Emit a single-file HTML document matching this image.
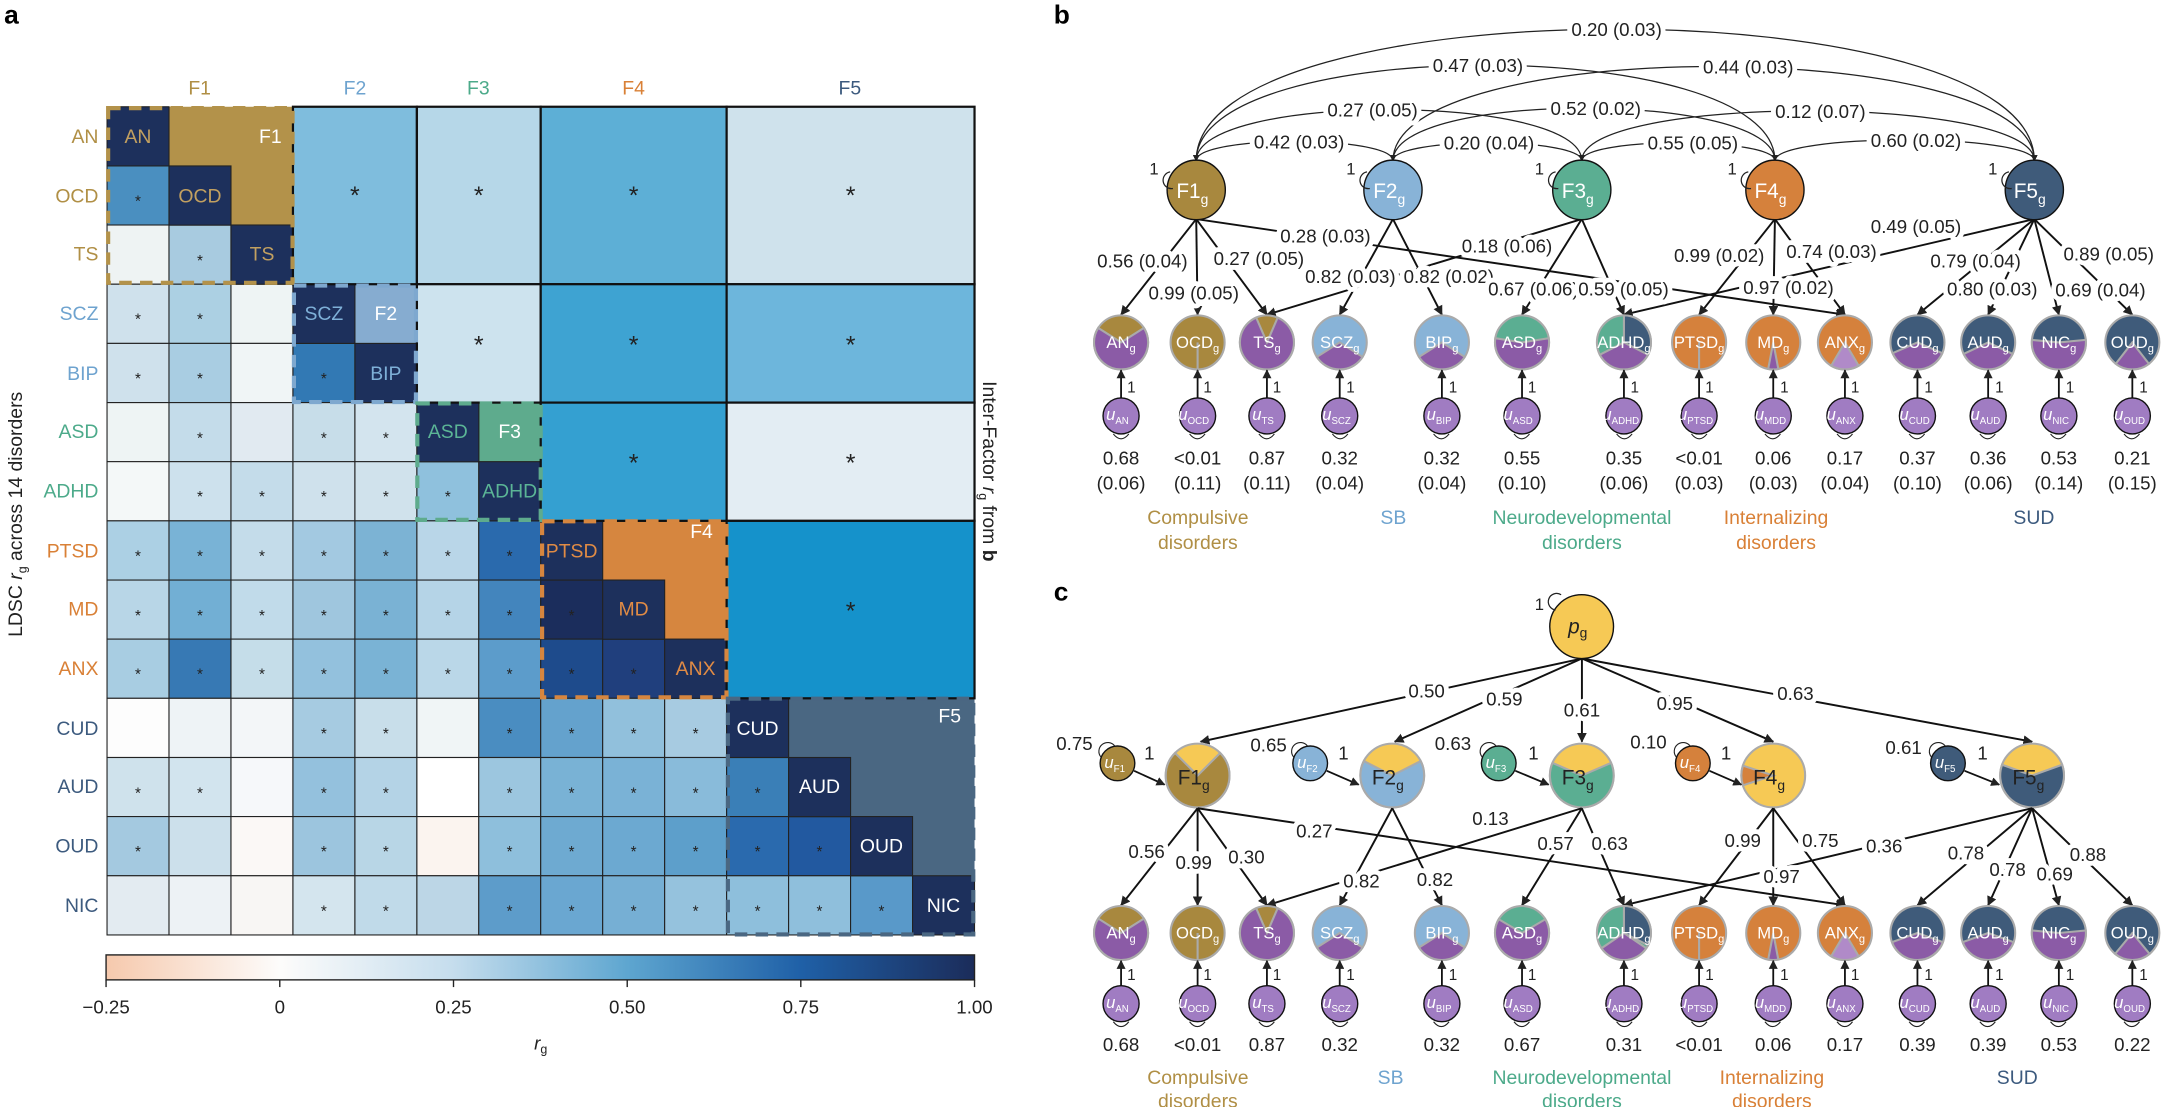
<!DOCTYPE html>
<html><head><meta charset="utf-8"><style>
html,body{margin:0;padding:0;background:#fff;}
svg{display:block;font-family:"Liberation Sans",sans-serif;}
.h{paint-order:stroke;stroke:#fff;stroke-width:7px;stroke-linejoin:round;}
.s{font-size:11px;fill:#222;text-anchor:middle;}
.lb{font-size:14px;text-anchor:middle;}
.t{font-size:13.5px;fill:#222;text-anchor:middle;}
.pl{font-size:12px;fill:#fff;text-anchor:middle;}
.ul{font-size:12px;fill:#fff;text-anchor:middle;font-style:italic;}
</style></head><body>
<svg width="2167" height="1107" viewBox="0 0 1563 798.5" preserveAspectRatio="none" xmlns="http://www.w3.org/2000/svg">
<defs>
<linearGradient id="cb" x1="0" x2="1" y1="0" y2="0">
<stop offset="0" stop-color="#f6c9ad"/><stop offset="0.2" stop-color="#fdfcfb"/><stop offset="0.4" stop-color="#c5dded"/><stop offset="0.6" stop-color="#5ea6d0"/><stop offset="0.8" stop-color="#1f60a7"/><stop offset="1" stop-color="#1b2c5a"/>
</linearGradient>
<marker id="ar" viewBox="0 0 10 10" refX="9" refY="5" markerWidth="5" markerHeight="5" orient="auto-start-reverse"><path d="M0,0 L10,5 L0,10 z" fill="#222"/></marker>
</defs>

<text x="3" y="17" font-size="19" font-weight="bold">a</text>
<text x="760" y="17" font-size="19" font-weight="bold">b</text>
<text x="760" y="433" font-size="19" font-weight="bold">c</text>

<g class="lb">
<text x="144" y="68" fill="#b08f45">F1</text>
<text x="256" y="68" fill="#6ea3cf">F2</text>
<text x="345" y="68" fill="#4caa8a">F3</text>
<text x="457" y="68" fill="#d98036">F4</text>
<text x="613" y="68" fill="#3c5a7e">F5</text>
</g>
<g font-size="14" text-anchor="end">
<text x="71" y="103" fill="#b08f45">AN</text>
<text x="71" y="146" fill="#b08f45">OCD</text>
<text x="71" y="188" fill="#b08f45">TS</text>
<text x="71" y="231" fill="#6ea3cf">SCZ</text>
<text x="71" y="274" fill="#6ea3cf">BIP</text>
<text x="71" y="316" fill="#4caa8a">ASD</text>
<text x="71" y="359" fill="#4caa8a">ADHD</text>
<text x="71" y="402" fill="#d98036">PTSD</text>
<text x="71" y="444" fill="#d98036">MD</text>
<text x="71" y="487" fill="#d98036">ANX</text>
<text x="71" y="530" fill="#3c5a7e">CUD</text>
<text x="71" y="572" fill="#3c5a7e">AUD</text>
<text x="71" y="615" fill="#3c5a7e">OUD</text>
<text x="71" y="658" fill="#3c5a7e">NIC</text>
</g>
<text transform="translate(16,371) rotate(-90)" font-size="14" text-anchor="middle" fill="#222">LDSC <tspan font-style="italic">r</tspan><tspan font-size="9" dy="3">g</tspan><tspan dy="-3"> across 14 disorders</tspan></text>
<text transform="translate(709,340) rotate(90)" font-size="14" text-anchor="middle" fill="#222">Inter-Factor <tspan font-style="italic">r</tspan><tspan font-size="9" dy="3">g</tspan><tspan dy="-3"> from </tspan><tspan font-weight="bold">b</tspan></text>

<g stroke="#222" stroke-width="0.8">
<rect x="77.2" y="119.7" width="44.7" height="42.7" fill="#4a8fc0"/>
<rect x="77.2" y="162.3" width="44.7" height="42.7" fill="#eef3f3"/><rect x="121.9" y="162.3" width="44.7" height="42.7" fill="#a8cbe0"/>
<rect x="77.2" y="205" width="44.7" height="42.7" fill="#cfe1ec"/><rect x="121.9" y="205" width="44.7" height="42.7" fill="#acd0e3"/><rect x="166.6" y="205" width="44.7" height="42.7" fill="#eef4f4"/>
<rect x="77.2" y="247.7" width="44.7" height="42.7" fill="#cfe1ec"/><rect x="121.9" y="247.7" width="44.7" height="42.7" fill="#a9cde2"/><rect x="166.6" y="247.7" width="44.7" height="42.7" fill="#f0f5f6"/><rect x="211.3" y="247.7" width="44.7" height="42.7" fill="#3279b4"/>
<rect x="77.2" y="290.4" width="44.7" height="42.7" fill="#eef4f4"/><rect x="121.9" y="290.4" width="44.7" height="42.7" fill="#c4dcea"/><rect x="166.6" y="290.4" width="44.7" height="42.7" fill="#e1eaf1"/><rect x="211.3" y="290.4" width="44.7" height="42.7" fill="#c7dde9"/><rect x="256" y="290.4" width="44.7" height="42.7" fill="#d3e4ee"/>
<rect x="77.2" y="333" width="44.7" height="42.7" fill="#f4f8f8"/><rect x="121.9" y="333" width="44.7" height="42.7" fill="#cde1ed"/><rect x="166.6" y="333" width="44.7" height="42.7" fill="#c4dcea"/><rect x="211.3" y="333" width="44.7" height="42.7" fill="#cfe1ec"/><rect x="256" y="333" width="44.7" height="42.7" fill="#d0e2ec"/><rect x="300.7" y="333" width="44.7" height="42.7" fill="#8fc1dd"/>
<rect x="77.2" y="375.7" width="44.7" height="42.7" fill="#acd0e4"/><rect x="121.9" y="375.7" width="44.7" height="42.7" fill="#79b3d6"/><rect x="166.6" y="375.7" width="44.7" height="42.7" fill="#c4dcea"/><rect x="211.3" y="375.7" width="44.7" height="42.7" fill="#a3c9e1"/><rect x="256" y="375.7" width="44.7" height="42.7" fill="#7cb3d4"/><rect x="300.7" y="375.7" width="44.7" height="42.7" fill="#b9d6e8"/><rect x="345.3" y="375.7" width="44.7" height="42.7" fill="#2a6aad"/>
<rect x="77.2" y="418.4" width="44.7" height="42.7" fill="#b8d6e7"/><rect x="121.9" y="418.4" width="44.7" height="42.7" fill="#72afd4"/><rect x="166.6" y="418.4" width="44.7" height="42.7" fill="#c1dbea"/><rect x="211.3" y="418.4" width="44.7" height="42.7" fill="#9fc6de"/><rect x="256" y="418.4" width="44.7" height="42.7" fill="#7ab2d4"/><rect x="300.7" y="418.4" width="44.7" height="42.7" fill="#b5d4e7"/><rect x="345.3" y="418.4" width="44.7" height="42.7" fill="#4385bd"/><rect x="390" y="418.4" width="44.7" height="42.7" fill="#1b2d5c"/>
<rect x="77.2" y="461" width="44.7" height="42.7" fill="#a8cde2"/><rect x="121.9" y="461" width="44.7" height="42.7" fill="#3779b4"/><rect x="166.6" y="461" width="44.7" height="42.7" fill="#c5dde9"/><rect x="211.3" y="461" width="44.7" height="42.7" fill="#93c1dd"/><rect x="256" y="461" width="44.7" height="42.7" fill="#7ab3d5"/><rect x="300.7" y="461" width="44.7" height="42.7" fill="#bad7e8"/><rect x="345.3" y="461" width="44.7" height="42.7" fill="#5c9ccb"/><rect x="390" y="461" width="44.7" height="42.7" fill="#1e4b8c"/><rect x="434.7" y="461" width="44.7" height="42.7" fill="#203f7d"/>
<rect x="77.2" y="503.7" width="44.7" height="42.7" fill="#fdfdfd"/><rect x="121.9" y="503.7" width="44.7" height="42.7" fill="#eef3f6"/><rect x="166.6" y="503.7" width="44.7" height="42.7" fill="#f3f6f8"/><rect x="211.3" y="503.7" width="44.7" height="42.7" fill="#a6cbe1"/><rect x="256" y="503.7" width="44.7" height="42.7" fill="#c8deea"/><rect x="300.7" y="503.7" width="44.7" height="42.7" fill="#f0f5f6"/><rect x="345.3" y="503.7" width="44.7" height="42.7" fill="#4a8dc1"/><rect x="390" y="503.7" width="44.7" height="42.7" fill="#64a2cd"/><rect x="434.7" y="503.7" width="44.7" height="42.7" fill="#91c0dc"/><rect x="479.4" y="503.7" width="44.7" height="42.7" fill="#a7cbe1"/>
<rect x="77.2" y="546.4" width="44.7" height="42.7" fill="#cfe2ec"/><rect x="121.9" y="546.4" width="44.7" height="42.7" fill="#d2e4ee"/><rect x="166.6" y="546.4" width="44.7" height="42.7" fill="#f6f8fa"/><rect x="211.3" y="546.4" width="44.7" height="42.7" fill="#94c1dd"/><rect x="256" y="546.4" width="44.7" height="42.7" fill="#b4d3e6"/><rect x="300.7" y="546.4" width="44.7" height="42.7" fill="#ffffff"/><rect x="345.3" y="546.4" width="44.7" height="42.7" fill="#9cc6df"/><rect x="390" y="546.4" width="44.7" height="42.7" fill="#79b2d5"/><rect x="434.7" y="546.4" width="44.7" height="42.7" fill="#7ab2d6"/><rect x="479.4" y="546.4" width="44.7" height="42.7" fill="#89bbda"/><rect x="524.1" y="546.4" width="44.7" height="42.7" fill="#3a7fb7"/>
<rect x="77.2" y="589" width="44.7" height="42.7" fill="#a4c9e0"/><rect x="121.9" y="589" width="44.7" height="42.7" fill="#cce0eb"/><rect x="166.6" y="589" width="44.7" height="42.7" fill="#fbf8f6"/><rect x="211.3" y="589" width="44.7" height="42.7" fill="#9cc5de"/><rect x="256" y="589" width="44.7" height="42.7" fill="#b8d6e6"/><rect x="300.7" y="589" width="44.7" height="42.7" fill="#fbf4ef"/><rect x="345.3" y="589" width="44.7" height="42.7" fill="#8ebfdc"/><rect x="390" y="589" width="44.7" height="42.7" fill="#6eaad1"/><rect x="434.7" y="589" width="44.7" height="42.7" fill="#6ca9d1"/><rect x="479.4" y="589" width="44.7" height="42.7" fill="#5d9fcb"/><rect x="524.1" y="589" width="44.7" height="42.7" fill="#2a6aae"/><rect x="568.8" y="589" width="44.7" height="42.7" fill="#2259a0"/>
<rect x="77.2" y="631.7" width="44.7" height="42.7" fill="#e3ebf1"/><rect x="121.9" y="631.7" width="44.7" height="42.7" fill="#edf2f5"/><rect x="166.6" y="631.7" width="44.7" height="42.7" fill="#f8f6f4"/><rect x="211.3" y="631.7" width="44.7" height="42.7" fill="#d4e5ee"/><rect x="256" y="631.7" width="44.7" height="42.7" fill="#c0dae9"/><rect x="300.7" y="631.7" width="44.7" height="42.7" fill="#bcd6e6"/><rect x="345.3" y="631.7" width="44.7" height="42.7" fill="#5d9cca"/><rect x="390" y="631.7" width="44.7" height="42.7" fill="#6aa7d1"/><rect x="434.7" y="631.7" width="44.7" height="42.7" fill="#76afd4"/><rect x="479.4" y="631.7" width="44.7" height="42.7" fill="#95c2dd"/><rect x="524.1" y="631.7" width="44.7" height="42.7" fill="#8ebfdc"/><rect x="568.8" y="631.7" width="44.7" height="42.7" fill="#8fbfdc"/><rect x="613.5" y="631.7" width="44.7" height="42.7" fill="#5999c9"/>
</g>

<g stroke="none">
<path d="M121.9,77 H211.3 V162.3 H166.6 V119.7 H121.9 Z" fill="#b3924a"/>
<rect x="256" y="205" width="44.7" height="42.7" fill="#86acd0"/>
<rect x="345.3" y="290.4" width="44.7" height="42.7" fill="#5eab8d"/>
<path d="M434.7,375.7 H524.1 V461 H479.4 V418.4 H434.7 Z" fill="#d6863f"/>
<path d="M568.8,503.7 H702.9 V631.7 H658.2 V589 H613.5 V546.4 H568.8 Z" fill="#4a6782"/>
</g>
<g fill="#1d305c" stroke="#222" stroke-width="0.8">
<rect x="77.2" y="77" width="44.7" height="42.7"/><rect x="121.9" y="119.7" width="44.7" height="42.7"/><rect x="166.6" y="162.3" width="44.7" height="42.7"/>
<rect x="211.3" y="205" width="44.7" height="42.7"/><rect x="256" y="247.7" width="44.7" height="42.7"/>
<rect x="300.7" y="290.4" width="44.7" height="42.7"/><rect x="345.3" y="333" width="44.7" height="42.7"/>
<rect x="390" y="375.7" width="44.7" height="42.7"/><rect x="434.7" y="418.4" width="44.7" height="42.7"/><rect x="479.4" y="461" width="44.7" height="42.7"/>
<rect x="524.1" y="503.7" width="44.7" height="42.7"/><rect x="568.8" y="546.4" width="44.7" height="42.7"/><rect x="613.5" y="589" width="44.7" height="42.7"/><rect x="658.2" y="631.7" width="44.7" height="42.7"/>
</g>
<g font-size="14" text-anchor="middle">
<text x="99.5" y="103" fill="#c2a060">AN</text><text x="144.2" y="146" fill="#c2a060">OCD</text><text x="189" y="188" fill="#c2a060">TS</text>
<text x="233.6" y="231" fill="#7eb0d8">SCZ</text><text x="278.3" y="274" fill="#7eb0d8">BIP</text>
<text x="323" y="316" fill="#5bb596">ASD</text><text x="367.6" y="359" fill="#5bb596">ADHD</text>
<text x="412.3" y="402" fill="#e08b45">PTSD</text><text x="457" y="444" fill="#e08b45">MD</text><text x="501.7" y="487" fill="#e08b45">ANX</text>
<text x="546.4" y="530" fill="#fff">CUD</text><text x="591.1" y="572" fill="#fff">AUD</text><text x="635.8" y="615" fill="#fff">OUD</text><text x="680.5" y="658" fill="#fff">NIC</text>
<text x="195" y="103" fill="#fff">F1</text><text x="278.3" y="231" fill="#fff">F2</text><text x="367.6" y="316" fill="#fff">F3</text><text x="506" y="388" fill="#fff">F4</text><text x="685" y="521" fill="#fff">F5</text>
</g>

<g stroke="#111" stroke-width="1.6">
<rect x="211.3" y="77" width="89.4" height="128" fill="#7fbddd"/>
<rect x="300.7" y="77" width="89.3" height="128" fill="#b6d7e8"/>
<rect x="390" y="77" width="134.1" height="128" fill="#5dafd6"/>
<rect x="524.1" y="77" width="178.8" height="128" fill="#cfe2ec"/>
<rect x="300.7" y="205" width="89.3" height="85.4" fill="#cde3ee"/>
<rect x="390" y="205" width="134.1" height="85.4" fill="#3ea3d2"/>
<rect x="524.1" y="205" width="178.8" height="85.4" fill="#6db6dc"/>
<rect x="390" y="290.4" width="134.1" height="85.3" fill="#34a0d1"/>
<rect x="524.1" y="290.4" width="178.8" height="85.3" fill="#e3edf3"/>
<rect x="524.1" y="375.7" width="178.8" height="128" fill="#1592cb"/>
</g>
<g font-size="18" text-anchor="middle" fill="#222">
<text x="256" y="147">*</text><text x="345.3" y="147">*</text><text x="457" y="147">*</text><text x="613.5" y="147">*</text>
<text x="345.3" y="255">*</text><text x="457" y="255">*</text><text x="613.5" y="255">*</text>
<text x="457" y="340">*</text><text x="613.5" y="340">*</text>
<text x="613.5" y="447">*</text>
</g>

<g class="s">
<text x="99.5" y="149">*</text>
<text x="144.2" y="192">*</text>
<text x="99.5" y="234">*</text><text x="144.2" y="234">*</text>
<text x="99.5" y="277">*</text><text x="144.2" y="277">*</text><text x="233.6" y="277">*</text>
<text x="144.2" y="320">*</text><text x="233.6" y="320">*</text><text x="278.3" y="320">*</text>
<text x="144.2" y="362">*</text><text x="189" y="362">*</text><text x="233.6" y="362">*</text><text x="278.3" y="362">*</text><text x="323" y="362">*</text>
<text x="99.5" y="405">*</text><text x="144.2" y="405">*</text><text x="189" y="405">*</text><text x="233.6" y="405">*</text><text x="278.3" y="405">*</text><text x="323" y="405">*</text><text x="367.6" y="405">*</text>
<text x="99.5" y="448">*</text><text x="144.2" y="448">*</text><text x="189" y="448">*</text><text x="233.6" y="448">*</text><text x="278.3" y="448">*</text><text x="323" y="448">*</text><text x="367.6" y="448">*</text><text x="412.3" y="448">*</text>
<text x="99.5" y="490">*</text><text x="144.2" y="490">*</text><text x="189" y="490">*</text><text x="233.6" y="490">*</text><text x="278.3" y="490">*</text><text x="323" y="490">*</text><text x="367.6" y="490">*</text><text x="412.3" y="490">*</text><text x="457" y="490">*</text>
<text x="233.6" y="533">*</text><text x="278.3" y="533">*</text><text x="367.6" y="533">*</text><text x="412.3" y="533">*</text><text x="457" y="533">*</text><text x="501.7" y="533">*</text>
<text x="99.5" y="576">*</text><text x="144.2" y="576">*</text><text x="233.6" y="576">*</text><text x="278.3" y="576">*</text><text x="367.6" y="576">*</text><text x="412.3" y="576">*</text><text x="457" y="576">*</text><text x="501.7" y="576">*</text><text x="546.4" y="576">*</text>
<text x="99.5" y="618">*</text><text x="233.6" y="618">*</text><text x="278.3" y="618">*</text><text x="367.6" y="618">*</text><text x="412.3" y="618">*</text><text x="457" y="618">*</text><text x="501.7" y="618">*</text><text x="546.4" y="618">*</text><text x="591.1" y="618">*</text>
<text x="233.6" y="661">*</text><text x="278.3" y="661">*</text><text x="367.6" y="661">*</text><text x="412.3" y="661">*</text><text x="457" y="661">*</text><text x="501.7" y="661">*</text><text x="546.4" y="661">*</text><text x="591.1" y="661">*</text><text x="635.8" y="661">*</text>
</g>

<g fill="none" stroke-width="3" stroke-dasharray="9,6">
<rect x="78" y="78" width="133" height="126" stroke="#b3924a"/>
<rect x="212" y="206" width="88" height="84" stroke="#7ea8cf"/>
<rect x="301" y="291" width="89" height="84" stroke="#5eab8d"/>
<rect x="391" y="376" width="133" height="127" stroke="#d6863f"/>
<rect x="525" y="504" width="177" height="170" stroke="#4a6782"/>
</g>

<rect x="76.5" y="688.8" width="626.4" height="18" fill="url(#cb)" stroke="#222" stroke-width="1"/>
<g stroke="#222" stroke-width="1">
<line x1="76.5" y1="706.8" x2="76.5" y2="712"/><line x1="201.8" y1="706.8" x2="201.8" y2="712"/><line x1="327.1" y1="706.8" x2="327.1" y2="712"/><line x1="452.4" y1="706.8" x2="452.4" y2="712"/><line x1="577.6" y1="706.8" x2="577.6" y2="712"/><line x1="702.9" y1="706.8" x2="702.9" y2="712"/>
</g>
<g font-size="13.5" text-anchor="middle" fill="#222">
<text x="76.5" y="731">−0.25</text><text x="201.8" y="731">0</text><text x="327.1" y="731">0.25</text><text x="452.4" y="731">0.50</text><text x="577.6" y="731">0.75</text><text x="702.9" y="731">1.00</text>
<text x="390" y="757" font-style="italic">r<tspan font-size="9" dy="3" font-style="normal">g</tspan></text>
</g>

<!-- PANEL B -->
<g fill="none" stroke="#222" stroke-width="0.9" marker-start="url(#ar)" marker-end="url(#ar)">
<path d="M862.8,116 C862.8,-10.7 1467.3,-10.7 1467.3,116"/>
<path d="M862.8,116 C862.8,24 1280.2,24 1280.2,116"/>
<path d="M1004.7,116 C1004.7,25.3 1467.3,25.3 1467.3,116"/>
<path d="M862.8,116 C862.8,66.7 1140.9,66.7 1140.9,116"/>
<path d="M1004.7,116 C1004.7,65.3 1280.2,65.3 1280.2,116"/>
<path d="M1140.9,116 C1140.9,68 1467.3,68 1467.3,116"/>
<path d="M862.8,116 C862.8,97.3 1004.7,97.3 1004.7,116"/>
<path d="M1004.7,116 C1004.7,98.7 1140.9,98.7 1140.9,116"/>
<path d="M1140.9,116 C1140.9,98.7 1280.2,98.7 1280.2,116"/>
<path d="M1280.2,116 C1280.2,96 1467.3,96 1467.3,116"/>
</g>
<g class="t h">
<text x="1166" y="26">0.20 (0.03)</text>
<text x="1066" y="52">0.47 (0.03)</text>
<text x="1261" y="53">0.44 (0.03)</text>
<text x="990" y="84">0.27 (0.05)</text>
<text x="1151" y="83">0.52 (0.02)</text>
<text x="1313" y="85">0.12 (0.07)</text>
<text x="937" y="107">0.42 (0.03)</text>
<text x="1074" y="108">0.20 (0.04)</text>
<text x="1221" y="108">0.55 (0.05)</text>
<text x="1382" y="106">0.60 (0.02)</text>
</g>

<g stroke="#111" stroke-width="1.4" marker-end="url(#ar)">
<line x1="862.8" y1="158" x2="1330.7" y2="227"/>
<line x1="1467.3" y1="158" x2="1171.3" y2="227"/>
<line x1="1140.9" y1="158" x2="913.8" y2="227"/>
<line x1="862.8" y1="158" x2="808.6" y2="227"/>
<line x1="862.8" y1="158" x2="863.8" y2="227"/>
<line x1="862.8" y1="158" x2="913.8" y2="227"/>
<line x1="1004.7" y1="158" x2="966.3" y2="227"/>
<line x1="1004.7" y1="158" x2="1040" y2="227"/>
<line x1="1140.9" y1="158" x2="1097.8" y2="227"/>
<line x1="1140.9" y1="158" x2="1171.3" y2="227"/>
<line x1="1280.2" y1="158" x2="1225.5" y2="227"/>
<line x1="1280.2" y1="158" x2="1279" y2="227"/>
<line x1="1280.2" y1="158" x2="1330.7" y2="227"/>
<line x1="1467.3" y1="158" x2="1383" y2="227"/>
<line x1="1467.3" y1="158" x2="1434" y2="227"/>
<line x1="1467.3" y1="158" x2="1485" y2="227"/>
<line x1="1467.3" y1="158" x2="1538" y2="227"/>
</g>
<g class="t h">
<text x="956" y="175">0.28 (0.03)</text>
<text x="824" y="193">0.56 (0.04)</text>
<text x="908" y="191">0.27 (0.05)</text>
<text x="861" y="216">0.99 (0.05)</text>
<text x="974" y="204">0.82 (0.03)</text>
<text x="1045" y="204">0.82 (0.02)</text>
<text x="1087" y="182">0.18 (0.06)</text>
<text x="1106" y="213">0.67 (0.06)</text>
<text x="1171" y="213">0.59 (0.05)</text>
<text x="1240" y="189">0.99 (0.02)</text>
<text x="1321" y="186">0.74 (0.03)</text>
<text x="1290" y="212">0.97 (0.02)</text>
<text x="1382" y="168">0.49 (0.05)</text>
<text x="1425" y="193">0.79 (0.04)</text>
<text x="1521" y="188">0.89 (0.05)</text>
<text x="1437" y="213">0.80 (0.03)</text>
<text x="1515" y="214">0.69 (0.04)</text>
</g>

<g stroke="#111" stroke-width="1">
<ellipse cx="862.8" cy="137" rx="21" ry="21.5" fill="#a8883e"/>
<ellipse cx="1004.7" cy="137" rx="21" ry="21.5" fill="#88b3d7"/>
<ellipse cx="1140.9" cy="137" rx="21" ry="21.5" fill="#5bae92"/>
<ellipse cx="1280.2" cy="137" rx="21" ry="21.5" fill="#d5813c"/>
<ellipse cx="1467.3" cy="137" rx="21" ry="21.5" fill="#3f5b7a"/>
</g>
<g font-size="15" fill="#fff" text-anchor="middle">
<text x="860" y="143">F1<tspan font-size="10" dy="4">g</tspan></text>
<text x="1002" y="143">F2<tspan font-size="10" dy="4">g</tspan></text>
<text x="1138" y="143">F3<tspan font-size="10" dy="4">g</tspan></text>
<text x="1277" y="143">F4<tspan font-size="10" dy="4">g</tspan></text>
<text x="1464" y="143">F5<tspan font-size="10" dy="4">g</tspan></text>
</g>
<g fill="none" stroke="#222" stroke-width="0.9">
<path d="M844,124 a6,6 0 1,0 2,12"/><path d="M986,124 a6,6 0 1,0 2,12"/><path d="M1122,124 a6,6 0 1,0 2,12"/><path d="M1261,124 a6,6 0 1,0 2,12"/><path d="M1449,124 a6,6 0 1,0 2,12"/>
</g>
<g font-size="12" fill="#222"><text x="829" y="126">1</text><text x="971" y="126">1</text><text x="1107" y="126">1</text><text x="1246" y="126">1</text><text x="1434" y="126">1</text></g>

<g stroke="#aaa" stroke-width="1.5">
<circle cx="808.6" cy="247" r="19.5" fill="#a8883e"/><path d="M808.6,247 l-16.46,-10.45 a19.5,19.5 0 1 0 32.92,0 z" fill="#8b5ba6"/>
<circle cx="863.8" cy="247" r="19.5" fill="#a8883e"/><line x1="863.8" y1="247" x2="863.8" y2="266.5"/>
<circle cx="913.8" cy="247" r="19.5" fill="#a8883e"/><path d="M913.8,247 l-7.74,-17.9 a19.5,19.5 0 1 0 15.48,0 z" fill="#8b5ba6"/>
<circle cx="966.3" cy="247" r="19.5" fill="#88b3d7"/><path d="M966.3,247 l-16.47,10.45 a19.5,19.5 0 0 0 32.94,0 z" fill="#8b5ba6"/>
<circle cx="1040" cy="247" r="19.5" fill="#88b3d7"/><path d="M1040,247 l-16.47,10.45 a19.5,19.5 0 0 0 32.94,0 z" fill="#8b5ba6"/>
<circle cx="1097.8" cy="247" r="19.5" fill="#5bae92"/><path d="M1097.8,247 l-19.26,-3.05 a19.5,19.5 0 1 0 38.52,0 z" fill="#8b5ba6"/>
<circle cx="1171.3" cy="247" r="19.5" fill="#5bae92"/><path d="M1171.3,247 V227.5 A19.5,19.5 0 0 1 1188.7,255.8 z" fill="#3f5b7a"/><path d="M1171.3,247 l-17.37,8.85 a19.5,19.5 0 0 0 34.74,0 z" fill="#8b5ba6"/>
<circle cx="1225.5" cy="247" r="19.5" fill="#d5813c"/><line x1="1225.5" y1="247" x2="1225.5" y2="266.5"/>
<circle cx="1279" cy="247" r="19.5" fill="#d5813c"/><path d="M1279,247 l-3.65,19.15 a19.5,19.5 0 0 0 7.3,0 z" fill="#8b5ba6"/>
<circle cx="1330.7" cy="247" r="19.5" fill="#d5813c"/><path d="M1330.7,247 l-9.93,16.79 a19.5,19.5 0 0 0 19.86,0 z" fill="#b08ac8"/>
<circle cx="1383" cy="247" r="19.5" fill="#3f5b7a"/><path d="M1383,247 l-17.9,7.74 a19.5,19.5 0 0 0 35.8,0 z" fill="#8b5ba6"/>
<circle cx="1434" cy="247" r="19.5" fill="#3f5b7a"/><path d="M1434,247 l-17.65,8.3 a19.5,19.5 0 0 0 35.3,0 z" fill="#8b5ba6"/>
<circle cx="1485" cy="247" r="19.5" fill="#3f5b7a"/><path d="M1485,247 l-19.41,-1.83 a19.5,19.5 0 1 0 38.82,0 z" fill="#8b5ba6"/>
<circle cx="1538" cy="247" r="19.5" fill="#3f5b7a"/><path d="M1538,247 l-11.95,15.4 a19.5,19.5 0 0 0 23.9,0 z" fill="#8b5ba6"/>
</g>
<g class="pl">
<text x="808.6" y="251">AN<tspan font-size="8" dy="3">g</tspan></text><text x="863.8" y="251">OCD<tspan font-size="8" dy="3">g</tspan></text><text x="913.8" y="251">TS<tspan font-size="8" dy="3">g</tspan></text><text x="966.3" y="251">SCZ<tspan font-size="8" dy="3">g</tspan></text><text x="1040" y="251">BIP<tspan font-size="8" dy="3">g</tspan></text><text x="1097.8" y="251">ASD<tspan font-size="8" dy="3">g</tspan></text><text x="1171.3" y="251">ADHD<tspan font-size="8" dy="3">g</tspan></text><text x="1225.5" y="251">PTSD<tspan font-size="8" dy="3">g</tspan></text><text x="1279" y="251">MD<tspan font-size="8" dy="3">g</tspan></text><text x="1330.7" y="251">ANX<tspan font-size="8" dy="3">g</tspan></text><text x="1383" y="251">CUD<tspan font-size="8" dy="3">g</tspan></text><text x="1434" y="251">AUD<tspan font-size="8" dy="3">g</tspan></text><text x="1485" y="251">NIC<tspan font-size="8" dy="3">g</tspan></text><text x="1538" y="251">OUD<tspan font-size="8" dy="3">g</tspan></text>
</g>

<g stroke="#111" stroke-width="1.3" marker-end="url(#ar)">
<line x1="808.6" y1="287" x2="808.6" y2="267"/><line x1="863.8" y1="287" x2="863.8" y2="267"/><line x1="913.8" y1="287" x2="913.8" y2="267"/><line x1="966.3" y1="287" x2="966.3" y2="267"/><line x1="1040" y1="287" x2="1040" y2="267"/><line x1="1097.8" y1="287" x2="1097.8" y2="267"/><line x1="1171.3" y1="287" x2="1171.3" y2="267"/><line x1="1225.5" y1="287" x2="1225.5" y2="267"/><line x1="1279" y1="287" x2="1279" y2="267"/><line x1="1330.7" y1="287" x2="1330.7" y2="267"/><line x1="1383" y1="287" x2="1383" y2="267"/><line x1="1434" y1="287" x2="1434" y2="267"/><line x1="1485" y1="287" x2="1485" y2="267"/><line x1="1538" y1="287" x2="1538" y2="267"/>
</g>
<g font-size="11" fill="#222">
<text x="813" y="283">1</text><text x="868" y="283">1</text><text x="918" y="283">1</text><text x="971" y="283">1</text><text x="1045" y="283">1</text><text x="1102" y="283">1</text><text x="1176" y="283">1</text><text x="1230" y="283">1</text><text x="1284" y="283">1</text><text x="1335" y="283">1</text><text x="1388" y="283">1</text><text x="1439" y="283">1</text><text x="1490" y="283">1</text><text x="1543" y="283">1</text>
</g>
<g fill="#a07cc2" stroke="#111" stroke-width="1">
<circle cx="808.6" cy="300" r="13"/><circle cx="863.8" cy="300" r="13"/><circle cx="913.8" cy="300" r="13"/><circle cx="966.3" cy="300" r="13"/><circle cx="1040" cy="300" r="13"/><circle cx="1097.8" cy="300" r="13"/><circle cx="1171.3" cy="300" r="13"/><circle cx="1225.5" cy="300" r="13"/><circle cx="1279" cy="300" r="13"/><circle cx="1330.7" cy="300" r="13"/><circle cx="1383" cy="300" r="13"/><circle cx="1434" cy="300" r="13"/><circle cx="1485" cy="300" r="13"/><circle cx="1538" cy="300" r="13"/>
</g>
<g fill="none" stroke="#222" stroke-width="0.8">
<path d="M803,313 q5.6,7 11.2,0"/><path d="M858,313 q5.6,7 11.2,0"/><path d="M908,313 q5.6,7 11.2,0"/><path d="M961,313 q5.6,7 11.2,0"/><path d="M1034,313 q5.6,7 11.2,0"/><path d="M1092,313 q5.6,7 11.2,0"/><path d="M1166,313 q5.6,7 11.2,0"/><path d="M1220,313 q5.6,7 11.2,0"/><path d="M1273,313 q5.6,7 11.2,0"/><path d="M1325,313 q5.6,7 11.2,0"/><path d="M1377,313 q5.6,7 11.2,0"/><path d="M1428,313 q5.6,7 11.2,0"/><path d="M1479,313 q5.6,7 11.2,0"/><path d="M1532,313 q5.6,7 11.2,0"/>
</g>
<g class="ul">
<text x="806" y="303">u<tspan font-size="7" font-style="normal" dy="3">AN</tspan></text><text x="861" y="303">u<tspan font-size="7" font-style="normal" dy="3">OCD</tspan></text><text x="911" y="303">u<tspan font-size="7" font-style="normal" dy="3">TS</tspan></text><text x="964" y="303">u<tspan font-size="7" font-style="normal" dy="3">SCZ</tspan></text><text x="1038" y="303">u<tspan font-size="7" font-style="normal" dy="3">BIP</tspan></text><text x="1095" y="303">u<tspan font-size="7" font-style="normal" dy="3">ASD</tspan></text><text x="1169" y="303">u<tspan font-size="7" font-style="normal" dy="3">ADHD</tspan></text><text x="1223" y="303">u<tspan font-size="7" font-style="normal" dy="3">PTSD</tspan></text><text x="1277" y="303">u<tspan font-size="7" font-style="normal" dy="3">MDD</tspan></text><text x="1328" y="303">u<tspan font-size="7" font-style="normal" dy="3">ANX</tspan></text><text x="1381" y="303">u<tspan font-size="7" font-style="normal" dy="3">CUD</tspan></text><text x="1432" y="303">u<tspan font-size="7" font-style="normal" dy="3">AUD</tspan></text><text x="1483" y="303">u<tspan font-size="7" font-style="normal" dy="3">NIC</tspan></text><text x="1536" y="303">u<tspan font-size="7" font-style="normal" dy="3">OUD</tspan></text>
</g>
<g class="t">
<text x="808.6" y="335">0.68</text><text x="863.8" y="335">&lt;0.01</text><text x="913.8" y="335">0.87</text><text x="966.3" y="335">0.32</text><text x="1040" y="335">0.32</text><text x="1097.8" y="335">0.55</text><text x="1171.3" y="335">0.35</text><text x="1225.5" y="335">&lt;0.01</text><text x="1279" y="335">0.06</text><text x="1330.7" y="335">0.17</text><text x="1383" y="335">0.37</text><text x="1434" y="335">0.36</text><text x="1485" y="335">0.53</text><text x="1538" y="335">0.21</text>
<text x="808.6" y="353">(0.06)</text><text x="863.8" y="353">(0.11)</text><text x="913.8" y="353">(0.11)</text><text x="966.3" y="353">(0.04)</text><text x="1040" y="353">(0.04)</text><text x="1097.8" y="353">(0.10)</text><text x="1171.3" y="353">(0.06)</text><text x="1225.5" y="353">(0.03)</text><text x="1279" y="353">(0.03)</text><text x="1330.7" y="353">(0.04)</text><text x="1383" y="353">(0.10)</text><text x="1434" y="353">(0.06)</text><text x="1485" y="353">(0.14)</text><text x="1538" y="353">(0.15)</text>
</g>
<g font-size="14" text-anchor="middle">
<text x="864" y="378" fill="#b08f45">Compulsive</text><text x="864" y="396" fill="#b08f45">disorders</text>
<text x="1005" y="378" fill="#6ea3cf">SB</text>
<text x="1141" y="378" fill="#4caa8a">Neurodevelopmental</text><text x="1141" y="396" fill="#4caa8a">disorders</text>
<text x="1281" y="378" fill="#d98036">Internalizing</text><text x="1281" y="396" fill="#d98036">disorders</text>
<text x="1467" y="378" fill="#3c5a7e">SUD</text>
</g>

<!-- PANEL C -->
<g stroke="#111" stroke-width="1.4" marker-end="url(#ar)">
<line x1="1141" y1="475" x2="866" y2="535"/>
<line x1="1141" y1="475" x2="1006" y2="535"/>
<line x1="1141" y1="475" x2="1141" y2="535"/>
<line x1="1141" y1="475" x2="1279" y2="535"/>
<line x1="1141" y1="475" x2="1465.7" y2="535"/>
</g>
<g class="t h" font-size="14">
<text x="1029" y="503">0.50</text><text x="1085" y="509">0.59</text><text x="1141" y="517">0.61</text><text x="1208" y="512">0.95</text><text x="1295" y="505">0.63</text>
</g>
<g stroke="#aaa" stroke-width="1.5">
<circle cx="863.8" cy="559.4" r="23" fill="#f6c955"/><path d="M863.8,559.4 l-16.26,-16.26 a23,23 0 1 0 32.52,0 z" fill="#a8883e"/>
<circle cx="1004.2" cy="559.4" r="23" fill="#f6c955"/><path d="M1004.2,559.4 l-20.49,-10.44 a23,23 0 1 0 40.98,0 z" fill="#88b3d7"/>
<circle cx="1140.9" cy="559.4" r="23" fill="#f6c955"/><path d="M1140.9,559.4 l-21.11,-9.13 a23,23 0 1 0 42.22,0 z" fill="#5bae92"/>
<circle cx="1279" cy="559.4" r="23" fill="#f6c955"/><path d="M1279,559.4 l-21.87,-7.1 a23,23 0 0 0 0,14.2 z" fill="#d5813c"/>
<circle cx="1465.7" cy="559.4" r="23" fill="#f6c955"/><path d="M1465.7,559.4 l-21.64,-7.79 a23,23 0 1 0 43.28,0 z" fill="#3f5b7a"/>
</g>
<g font-size="15" fill="#222" text-anchor="middle">
<text x="861" y="566">F1<tspan font-size="10" dy="4">g</tspan></text><text x="1001" y="566">F2<tspan font-size="10" dy="4">g</tspan></text><text x="1138" y="566">F3<tspan font-size="10" dy="4">g</tspan></text><text x="1276" y="566">F4<tspan font-size="10" dy="4">g</tspan></text><text x="1463" y="566">F5<tspan font-size="10" dy="4">g</tspan></text>
</g>
<ellipse cx="1140.8" cy="452" rx="23" ry="23" fill="#f6c955" stroke="#111" stroke-width="1"/>
<text x="1138" y="457" font-size="15" font-style="italic" fill="#222" text-anchor="middle">p<tspan font-size="10" font-style="normal" dy="3">g</tspan></text>
<path d="M1122,440 a6,6 0 1,1 4,-11" fill="none" stroke="#222" stroke-width="0.9"/>
<text x="1107" y="440" font-size="12" fill="#222">1</text>
<g stroke="#111" stroke-width="1.3" marker-end="url(#ar)">
<line x1="818" y1="556" x2="840" y2="566"/><line x1="957" y1="556" x2="980" y2="566"/><line x1="1093" y1="556" x2="1117" y2="566"/><line x1="1233" y1="556" x2="1256" y2="566"/><line x1="1417" y1="556" x2="1442" y2="566"/>
</g>
<g stroke="#111" stroke-width="1">
<circle cx="806" cy="550.6" r="12.5" fill="#a8883e"/><circle cx="945" cy="550.6" r="12.5" fill="#88b3d7"/><circle cx="1081" cy="550.6" r="12.5" fill="#5bae92"/><circle cx="1221" cy="550.6" r="12.5" fill="#d5813c"/><circle cx="1405" cy="550.6" r="12.5" fill="#3f5b7a"/>
</g>
<g class="ul">
<text x="804" y="554">u<tspan font-size="7" font-style="normal" dy="3">F1</tspan></text><text x="943" y="554">u<tspan font-size="7" font-style="normal" dy="3">F2</tspan></text><text x="1079" y="554">u<tspan font-size="7" font-style="normal" dy="3">F3</tspan></text><text x="1219" y="554">u<tspan font-size="7" font-style="normal" dy="3">F4</tspan></text><text x="1403" y="554">u<tspan font-size="7" font-style="normal" dy="3">F5</tspan></text>
</g>
<g fill="none" stroke="#222" stroke-width="0.8">
<path d="M794,546 a6,6 0 0,1 10,-8"/><path d="M933,546 a6,6 0 0,1 10,-8"/><path d="M1069,546 a6,6 0 0,1 10,-8"/><path d="M1209,546 a6,6 0 0,1 10,-8"/><path d="M1393,546 a6,6 0 0,1 10,-8"/>
</g>
<g class="t">
<text x="775" y="541">0.75</text><text x="915" y="542">0.65</text><text x="1048" y="541">0.63</text><text x="1189" y="540">0.10</text><text x="1373" y="544">0.61</text>
<text x="829" y="548">1</text><text x="969" y="548">1</text><text x="1106" y="548">1</text><text x="1245" y="548">1</text><text x="1430" y="548">1</text>
</g>

<g stroke="#111" stroke-width="1.4" marker-end="url(#ar)">
<line x1="863.8" y1="583" x2="1330.7" y2="653"/>
<line x1="1465.7" y1="583" x2="1171.3" y2="653"/>
<line x1="1140.9" y1="583" x2="913.8" y2="653"/>
<line x1="863.8" y1="583" x2="808.6" y2="653"/>
<line x1="863.8" y1="583" x2="863.8" y2="653"/>
<line x1="863.8" y1="583" x2="913.8" y2="653"/>
<line x1="1004.2" y1="583" x2="966.3" y2="653"/>
<line x1="1004.2" y1="583" x2="1040" y2="653"/>
<line x1="1140.9" y1="583" x2="1097.8" y2="653"/>
<line x1="1140.9" y1="583" x2="1171.3" y2="653"/>
<line x1="1279" y1="583" x2="1225.5" y2="653"/>
<line x1="1279" y1="583" x2="1279" y2="653"/>
<line x1="1279" y1="583" x2="1330.7" y2="653"/>
<line x1="1465.7" y1="583" x2="1383" y2="653"/>
<line x1="1465.7" y1="583" x2="1434" y2="653"/>
<line x1="1465.7" y1="583" x2="1485" y2="653"/>
<line x1="1465.7" y1="583" x2="1538" y2="653"/>
</g>
<g class="t h" font-size="14">
<text x="948" y="604">0.27</text><text x="1075" y="595">0.13</text><text x="827" y="619">0.56</text><text x="861" y="627">0.99</text><text x="899" y="623">0.30</text><text x="982" y="640">0.82</text><text x="1035" y="639">0.82</text><text x="1122" y="613">0.57</text><text x="1161" y="613">0.63</text><text x="1257" y="611">0.99</text><text x="1313" y="611">0.75</text><text x="1285" y="637">0.97</text><text x="1359" y="615">0.36</text><text x="1418" y="620">0.78</text><text x="1448" y="632">0.78</text><text x="1482" y="635">0.69</text><text x="1506" y="621">0.88</text>
</g>

<g stroke="#aaa" stroke-width="1.5">
<circle cx="808.6" cy="673" r="19.5" fill="#a8883e"/><path d="M808.6,673 l-16.46,-10.45 a19.5,19.5 0 1 0 32.92,0 z" fill="#8b5ba6"/>
<circle cx="863.8" cy="673" r="19.5" fill="#a8883e"/><line x1="863.8" y1="673" x2="863.8" y2="692.5"/>
<circle cx="913.8" cy="673" r="19.5" fill="#a8883e"/><path d="M913.8,673 l-7.74,-17.9 a19.5,19.5 0 1 0 15.48,0 z" fill="#8b5ba6"/>
<circle cx="966.3" cy="673" r="19.5" fill="#88b3d7"/><path d="M966.3,673 l-16.47,10.45 a19.5,19.5 0 0 0 32.94,0 z" fill="#8b5ba6"/>
<circle cx="1040" cy="673" r="19.5" fill="#88b3d7"/><path d="M1040,673 l-16.47,10.45 a19.5,19.5 0 0 0 32.94,0 z" fill="#8b5ba6"/>
<circle cx="1097.8" cy="673" r="19.5" fill="#5bae92"/><path d="M1097.8,673 l-16.79,-9.93 a19.5,19.5 0 1 0 33.58,0 z" fill="#8b5ba6"/>
<circle cx="1171.3" cy="673" r="19.5" fill="#5bae92"/><path d="M1171.3,673 V653.5 A19.5,19.5 0 0 1 1188.7,681.8 z" fill="#3f5b7a"/><path d="M1171.3,673 l-16.13,10.96 a19.5,19.5 0 0 0 32.26,0 z" fill="#8b5ba6"/>
<circle cx="1225.5" cy="673" r="19.5" fill="#d5813c"/><line x1="1225.5" y1="673" x2="1225.5" y2="692.5"/>
<circle cx="1279" cy="673" r="19.5" fill="#d5813c"/><path d="M1279,673 l-3.65,19.15 a19.5,19.5 0 0 0 7.3,0 z" fill="#8b5ba6"/>
<circle cx="1330.7" cy="673" r="19.5" fill="#d5813c"/><path d="M1330.7,673 l-9.93,16.79 a19.5,19.5 0 0 0 19.86,0 z" fill="#b08ac8"/>
<circle cx="1383" cy="673" r="19.5" fill="#3f5b7a"/><path d="M1383,673 l-18.35,6.6 a19.5,19.5 0 0 0 36.7,0 z" fill="#8b5ba6"/>
<circle cx="1434" cy="673" r="19.5" fill="#3f5b7a"/><path d="M1434,673 l-18.35,6.6 a19.5,19.5 0 0 0 36.7,0 z" fill="#8b5ba6"/>
<circle cx="1485" cy="673" r="19.5" fill="#3f5b7a"/><path d="M1485,673 l-19.41,-1.83 a19.5,19.5 0 1 0 38.82,0 z" fill="#8b5ba6"/>
<circle cx="1538" cy="673" r="19.5" fill="#3f5b7a"/><path d="M1538,673 l-12.43,15.03 a19.5,19.5 0 0 0 24.86,0 z" fill="#8b5ba6"/>
</g>
<g class="pl">
<text x="808.6" y="677">AN<tspan font-size="8" dy="3">g</tspan></text><text x="863.8" y="677">OCD<tspan font-size="8" dy="3">g</tspan></text><text x="913.8" y="677">TS<tspan font-size="8" dy="3">g</tspan></text><text x="966.3" y="677">SCZ<tspan font-size="8" dy="3">g</tspan></text><text x="1040" y="677">BIP<tspan font-size="8" dy="3">g</tspan></text><text x="1097.8" y="677">ASD<tspan font-size="8" dy="3">g</tspan></text><text x="1171.3" y="677">ADHD<tspan font-size="8" dy="3">g</tspan></text><text x="1225.5" y="677">PTSD<tspan font-size="8" dy="3">g</tspan></text><text x="1279" y="677">MD<tspan font-size="8" dy="3">g</tspan></text><text x="1330.7" y="677">ANX<tspan font-size="8" dy="3">g</tspan></text><text x="1383" y="677">CUD<tspan font-size="8" dy="3">g</tspan></text><text x="1434" y="677">AUD<tspan font-size="8" dy="3">g</tspan></text><text x="1485" y="677">NIC<tspan font-size="8" dy="3">g</tspan></text><text x="1538" y="677">OUD<tspan font-size="8" dy="3">g</tspan></text>
</g>
<g stroke="#111" stroke-width="1.3" marker-end="url(#ar)">
<line x1="808.6" y1="711" x2="808.6" y2="693"/><line x1="863.8" y1="711" x2="863.8" y2="693"/><line x1="913.8" y1="711" x2="913.8" y2="693"/><line x1="966.3" y1="711" x2="966.3" y2="693"/><line x1="1040" y1="711" x2="1040" y2="693"/><line x1="1097.8" y1="711" x2="1097.8" y2="693"/><line x1="1171.3" y1="711" x2="1171.3" y2="693"/><line x1="1225.5" y1="711" x2="1225.5" y2="693"/><line x1="1279" y1="711" x2="1279" y2="693"/><line x1="1330.7" y1="711" x2="1330.7" y2="693"/><line x1="1383" y1="711" x2="1383" y2="693"/><line x1="1434" y1="711" x2="1434" y2="693"/><line x1="1485" y1="711" x2="1485" y2="693"/><line x1="1538" y1="711" x2="1538" y2="693"/>
</g>
<g font-size="11" fill="#222">
<text x="813" y="707">1</text><text x="868" y="707">1</text><text x="918" y="707">1</text><text x="971" y="707">1</text><text x="1045" y="707">1</text><text x="1102" y="707">1</text><text x="1176" y="707">1</text><text x="1230" y="707">1</text><text x="1284" y="707">1</text><text x="1335" y="707">1</text><text x="1388" y="707">1</text><text x="1439" y="707">1</text><text x="1490" y="707">1</text><text x="1543" y="707">1</text>
</g>
<g fill="#a07cc2" stroke="#111" stroke-width="1">
<circle cx="808.6" cy="724" r="13"/><circle cx="863.8" cy="724" r="13"/><circle cx="913.8" cy="724" r="13"/><circle cx="966.3" cy="724" r="13"/><circle cx="1040" cy="724" r="13"/><circle cx="1097.8" cy="724" r="13"/><circle cx="1171.3" cy="724" r="13"/><circle cx="1225.5" cy="724" r="13"/><circle cx="1279" cy="724" r="13"/><circle cx="1330.7" cy="724" r="13"/><circle cx="1383" cy="724" r="13"/><circle cx="1434" cy="724" r="13"/><circle cx="1485" cy="724" r="13"/><circle cx="1538" cy="724" r="13"/>
</g>
<g fill="none" stroke="#222" stroke-width="0.8">
<path d="M803,737 q5.6,7 11.2,0"/><path d="M858,737 q5.6,7 11.2,0"/><path d="M908,737 q5.6,7 11.2,0"/><path d="M961,737 q5.6,7 11.2,0"/><path d="M1034,737 q5.6,7 11.2,0"/><path d="M1092,737 q5.6,7 11.2,0"/><path d="M1166,737 q5.6,7 11.2,0"/><path d="M1220,737 q5.6,7 11.2,0"/><path d="M1273,737 q5.6,7 11.2,0"/><path d="M1325,737 q5.6,7 11.2,0"/><path d="M1377,737 q5.6,7 11.2,0"/><path d="M1428,737 q5.6,7 11.2,0"/><path d="M1479,737 q5.6,7 11.2,0"/><path d="M1532,737 q5.6,7 11.2,0"/>
</g>
<g class="ul">
<text x="806" y="727">u<tspan font-size="7" font-style="normal" dy="3">AN</tspan></text><text x="861" y="727">u<tspan font-size="7" font-style="normal" dy="3">OCD</tspan></text><text x="911" y="727">u<tspan font-size="7" font-style="normal" dy="3">TS</tspan></text><text x="964" y="727">u<tspan font-size="7" font-style="normal" dy="3">SCZ</tspan></text><text x="1038" y="727">u<tspan font-size="7" font-style="normal" dy="3">BIP</tspan></text><text x="1095" y="727">u<tspan font-size="7" font-style="normal" dy="3">ASD</tspan></text><text x="1169" y="727">u<tspan font-size="7" font-style="normal" dy="3">ADHD</tspan></text><text x="1223" y="727">u<tspan font-size="7" font-style="normal" dy="3">PTSD</tspan></text><text x="1277" y="727">u<tspan font-size="7" font-style="normal" dy="3">MDD</tspan></text><text x="1328" y="727">u<tspan font-size="7" font-style="normal" dy="3">ANX</tspan></text><text x="1381" y="727">u<tspan font-size="7" font-style="normal" dy="3">CUD</tspan></text><text x="1432" y="727">u<tspan font-size="7" font-style="normal" dy="3">AUD</tspan></text><text x="1483" y="727">u<tspan font-size="7" font-style="normal" dy="3">NIC</tspan></text><text x="1536" y="727">u<tspan font-size="7" font-style="normal" dy="3">OUD</tspan></text>
</g>
<g class="t">
<text x="808.6" y="758">0.68</text><text x="863.8" y="758">&lt;0.01</text><text x="913.8" y="758">0.87</text><text x="966.3" y="758">0.32</text><text x="1040" y="758">0.32</text><text x="1097.8" y="758">0.67</text><text x="1171.3" y="758">0.31</text><text x="1225.5" y="758">&lt;0.01</text><text x="1279" y="758">0.06</text><text x="1330.7" y="758">0.17</text><text x="1383" y="758">0.39</text><text x="1434" y="758">0.39</text><text x="1485" y="758">0.53</text><text x="1538" y="758">0.22</text>
</g>
<g font-size="14" text-anchor="middle">
<text x="864" y="782" fill="#b08f45">Compulsive</text><text x="864" y="799" fill="#b08f45">disorders</text>
<text x="1003" y="782" fill="#6ea3cf">SB</text>
<text x="1141" y="782" fill="#4caa8a">Neurodevelopmental</text><text x="1141" y="799" fill="#4caa8a">disorders</text>
<text x="1278" y="782" fill="#d98036">Internalizing</text><text x="1278" y="799" fill="#d98036">disorders</text>
<text x="1455" y="782" fill="#3c5a7e">SUD</text>
</g>
</svg>
</body></html>
